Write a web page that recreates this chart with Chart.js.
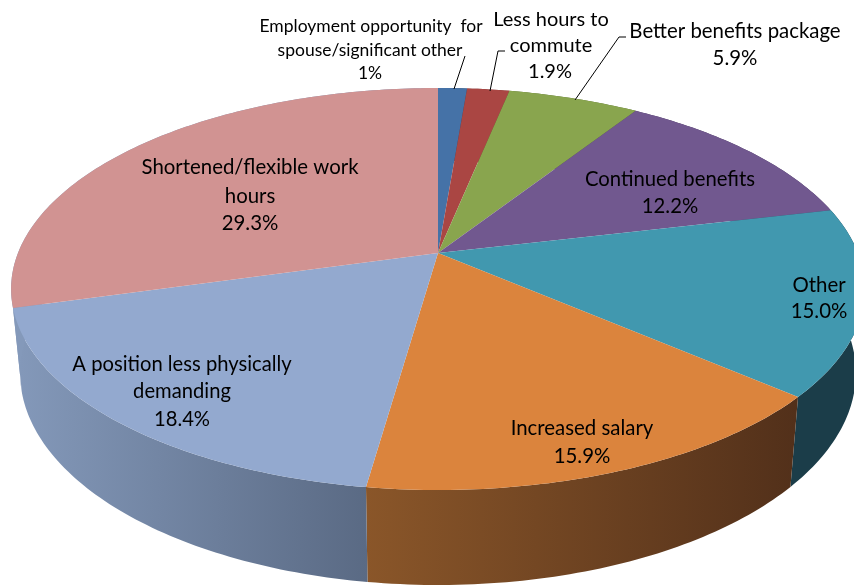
<!DOCTYPE html>
<html>
<head>
<meta charset="utf-8">
<title>Pie</title>
<script src="https://cdn.jsdelivr.net/npm/chart.js@4"></script>
<style>
html, body { margin: 0; padding: 0; background: #fff; overflow: hidden; }
canvas { display: block; }
</style>
</head>
<body>
<canvas id="pieChart" width="854" height="586"></canvas>
<script>
const categories = [
    'Employment opportunity for spouse/significant other',
    'Less hours to commute',
    'Better benefits package',
    'Continued benefits',
    'Other',
    'Increased salary',
    'A position less physically demanding',
    'Shortened/flexible work hours'
];
const shares = [1.3, 1.9, 5.9, 12.2, 15.0, 15.9, 18.4, 29.3];
const faceColors = ['#4572a7', '#aa4643', '#89a54e', '#71588f', '#4198af', '#db843d', '#93a9cf', '#d19392'];
// left and right colour of each slice's side wall
const wallColors = [
    ['#2d4a6c', '#2d4a6c'], ['#6e2d2b', '#6e2d2b'], ['#586b32', '#586b32'], ['#49395d', '#49395d'],
    ['#1b3d49', '#1b3d49'], ['#8a5629', '#52301a'], ['#8499ba', '#5a6a84'], ['#8499ba', '#8499ba']
];

// text, centre x, baseline y, font size
const labelLines = [
    ['Employment opportunity  for', 371, 32, 17.5], ['spouse/significant other', 370, 56, 17.5], ['1%', 370, 79, 17.5],
    ['Less hours to', 551, 26, 20], ['commute', 551, 52, 20], ['1.9%', 550, 78, 20],
    ['Better benefits package', 735, 38, 20.4], ['5.9%', 735, 65, 20.4],
    ['Continued benefits', 670, 186, 20.3], ['12.2%', 670, 213, 20.3],
    ['Shortened/flexible work', 250, 174, 20.4], ['hours', 250, 203, 20.4], ['29.3%', 250, 230, 20.4],
    ['Other', 819, 292, 20.4], ['15.0%', 819, 318, 20.4],
    ['Increased salary', 582, 435, 20.4], ['15.9%', 582, 463, 20.4],
    ['A position less physically', 182, 371, 20.2], ['demanding', 182, 398, 20.2], ['18.4%', 182, 426, 20.2]
];
const leaderLines = [
    [[454, 89], [465, 56]],
    [[490, 91], [498, 51], [505, 51]],
    [[575, 100], [619, 37], [626, 37]]
];

// view of the tilted pie: apex of the slices and perspective of the disc
const apexX = 438, apexY = 253, radiusX = 420, topY = 88, bottomY = 490;
const tilt = (topY + bottomY - 2 * apexY) / (bottomY - topY);
const spread = bottomY * (1 - tilt) - apexY;

function topPoint(angle) {
    const u = Math.cos(angle), v = Math.sin(angle);
    const w = 1 - tilt * v;
    return [apexX + radiusX * u / w, (apexY + spread * v) / w];
}

// lower rim is the same ellipse, a bit narrower and moved down
function lowerPoint(angle) {
    const p = topPoint(angle);
    return [438 + (p[0] - 438) * 418 / 427, 373 + (p[1] - 289) * 212 / 201];
}

function rim(fn, start, end) {
    const pts = [];
    const steps = Math.max(2, Math.ceil((end - start) * 60));
    for (let i = 0; i <= steps; i++) {
        pts.push(fn(start + (end - start) * i / steps));
    }
    return pts;
}

const tiltedPie = {
    id: 'tiltedPie',
    beforeDatasetsDraw(chart) {
        const ctx = chart.ctx;
        const arcs = chart.getDatasetMeta(0).data;

        arcs.forEach((arc, i) => {
            const upper = rim(topPoint, arc.startAngle, arc.endAngle);
            const lower = rim(lowerPoint, arc.startAngle, arc.endAngle).reverse();
            const xs = upper.concat(lower).map(p => p[0]);
            const grad = ctx.createLinearGradient(Math.min(...xs), 0, Math.max(...xs), 0);
            grad.addColorStop(0, wallColors[i][0]);
            grad.addColorStop(1, wallColors[i][1]);
            ctx.beginPath();
            upper.concat(lower).forEach((p, j) => j ? ctx.lineTo(p[0], p[1]) : ctx.moveTo(p[0], p[1]));
            ctx.closePath();
            ctx.fillStyle = grad;
            ctx.fill();
        });

        arcs.forEach((arc, i) => {
            ctx.beginPath();
            ctx.moveTo(apexX, apexY);
            rim(topPoint, arc.startAngle, arc.endAngle).forEach(p => ctx.lineTo(p[0], p[1]));
            ctx.closePath();
            ctx.fillStyle = arc.options.backgroundColor;
            ctx.fill();
        });
        return false;
    },
    afterDraw(chart) {
        const ctx = chart.ctx;
        ctx.strokeStyle = '#000';
        ctx.lineWidth = 1;
        leaderLines.forEach(line => {
            ctx.beginPath();
            line.forEach((p, j) => j ? ctx.lineTo(p[0], p[1]) : ctx.moveTo(p[0], p[1]));
            ctx.stroke();
        });
        ctx.fillStyle = '#000';
        ctx.textAlign = 'center';
        ctx.textBaseline = 'alphabetic';
        labelLines.forEach(l => {
            ctx.font = l[3] + 'px Lato';
            ctx.fillText(l[0], l[1], l[2]);
        });
    }
};

new Chart(document.getElementById('pieChart').getContext('2d'), {
    type: 'pie',
    data: {
        labels: categories,
        datasets: [{ data: shares, backgroundColor: faceColors, borderWidth: 0 }]
    },
    options: {
        responsive: false,
        animation: false,
        plugins: { legend: { display: false }, tooltip: { enabled: false } }
    },
    plugins: [tiltedPie]
});
</script>
</body>
</html>
